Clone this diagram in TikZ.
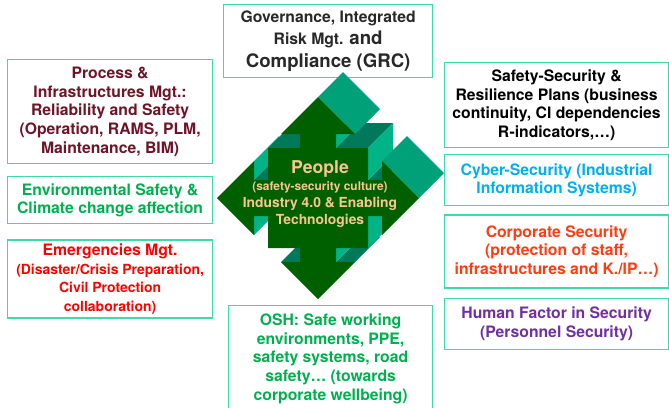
\documentclass[tikz,border=0pt]{standalone}
\usepackage{fontspec}
\setmainfont{TeX Gyre Heros}
\usetikzlibrary{positioning}
\definecolor{frameline}{RGB}{60,220,170}
\definecolor{arrowfront}{RGB}{0,96,0}
\definecolor{sidelight}{RGB}{0,180,135}
\definecolor{sidedark}{RGB}{0,120,90}
\definecolor{sidemid}{RGB}{0,160,120}
\definecolor{peopletan}{RGB}{246,200,144}
\definecolor{procred}{RGB}{110,20,40}
\definecolor{envgreen}{RGB}{0,176,80}
\definecolor{emred}{RGB}{255,0,0}
\definecolor{cyberblue}{RGB}{0,176,240}
\definecolor{corpred}{RGB}{255,60,20}
\definecolor{humanpurple}{RGB}{112,48,160}
\definecolor{grcgray}{RGB}{40,40,40}
\newcommand{\subtxt}{\fontsize{14}{16.8}\selectfont}
\newcommand{\bigtxt}{\fontsize{18.7}{22.5}\selectfont}

\begin{document}
\begin{tikzpicture}[x=1bp, y=-1bp,
	box/.style={draw=frameline, line width=1.2bp, fill=white, align=center,
		minimum width=205bp, inner sep=2bp, font=\fontsize{15.8}{18.8}\selectfont\bfseries},
	widebox/.style={box, minimum width=224bp},
	facelight/.style={fill=sidelight},
	facedark/.style={fill=sidedark},
	facemid/.style={fill=sidemid},
	front/.style={fill=arrowfront}
	]
	\useasboundingbox (0,0) rectangle (669,407);

	% left column
	\node[box, minimum height=104bp, text=procred, anchor=north west] (process) at (7,59)
		{Process \&\\Infrastructures Mgt.:\\Reliability and Safety\\(Operation, RAMS, PLM,\\Maintenance, BIM)};
	\node[box, minimum height=47bp, text=envgreen, below=12bp of process] (environment)
		{Environmental Safety \&\\Climate change affection};
	\node[box, minimum height=78bp, text=emred, below=15bp of environment] (emergency)
		{Emergencies Mgt.\\\subtxt (Disaster/Crisis Preparation,\\\subtxt Civil Protection\\\subtxt collaboration)};

	% right column
	\node[widebox, minimum height=85bp, text=black, anchor=north west] (plans) at (444,62)
		{Safety-Security \&\\Resilience Plans (business\\continuity, CI dependencies\\R-indicators,…)};
	\node[widebox, minimum height=51bp, text=cyberblue, below=6bp of plans] (cyber)
		{Cyber-Security (Industrial\\Information Systems)};
	\node[widebox, minimum height=73bp, text=corpred, below=8bp of cyber] (corporate)
		{Corporate Security\\(protection of staff,\\infrastructures and K./IP…)};
	\node[widebox, minimum height=51bp, text=humanpurple, below=9bp of corporate] (humanfactor)
		{Human Factor in Security\\(Personnel Security)};

	% top and bottom
	\node[box, minimum width=209bp, minimum height=73bp, text=grcgray, anchor=north west,
		font=\fontsize{15.8}{22.5}\selectfont\bfseries] (grc) at (223,4)
		{Governance, Integrated\\Risk Mgt. \bigtxt and\\\bigtxt Compliance (GRC)};
	\node[box, minimum width=204bp, minimum height=106bp, text=envgreen, anchor=north west] (osh) at (228,305)
		{OSH: Safe working\\environments, PPE,\\safety systems, road\\safety… (towards\\corporate wellbeing)};

	% 3D quad arrow
	\begin{scope}[shift={(318,198)}]
		\fill[facelight] (-64,-37) -- (-64,-18) -- (-39,-43) -- (-39,-62) -- cycle;
		\fill[facelight] (-64,18) -- (-64,37) -- (-39,12) -- (-39,-7) -- cycle;
		\fill[facedark] (-37,64) -- (-18,64) -- (7,39) -- (-12,39) -- cycle;
		\fill[facedark] (18,64) -- (37,64) -- (62,39) -- (43,39) -- cycle;
		\fill[facedark] (-64,-18) -- (-50,-18) -- (-25,-43) -- (-39,-43) -- cycle;
		\fill[facedark] (50,-18) -- (64,-18) -- (89,-43) -- (75,-43) -- cycle;
		\fill[facelight] (18,-64) -- (18,-50) -- (43,-75) -- (43,-89) -- cycle;
		\fill[facelight] (18,50) -- (18,64) -- (43,39) -- (43,25) -- cycle;
		\fill[facedark] (-50,-50) -- (-18,-50) -- (7,-75) -- (-25,-75) -- cycle;
		\fill[facedark] (18,-50) -- (50,-50) -- (75,-75) -- (43,-75) -- cycle;
		\fill[facelight] (50,-50) -- (50,-18) -- (75,-43) -- (75,-75) -- cycle;
		\fill[facelight] (50,18) -- (50,50) -- (75,25) -- (75,-7) -- cycle;
		\fill[facemid] (0,-101) -- (37,-64) -- (62,-89) -- (25,-126) -- cycle;
		\fill[facemid] (64,-37) -- (101,0) -- (126,-25) -- (89,-62) -- cycle;
		\fill[front] (0,-101) -- (37,-64) -- (18,-64) -- (18,-50) -- (50,-50) -- (50,-18)
			-- (64,-18) -- (64,-37) -- (101,0) -- (64,37) -- (64,18) -- (50,18) -- (50,50)
			-- (18,50) -- (18,64) -- (37,64) -- (0,101) -- (-37,64) -- (-18,64) -- (-18,50)
			-- (-50,50) -- (-50,18) -- (-64,18) -- (-64,37) -- (-101,0) -- (-64,-37)
			-- (-64,-18) -- (-50,-18) -- (-50,-50) -- (-18,-50) -- (-18,-64) -- (-37,-64) -- cycle;
	\end{scope}

	\node[align=center, text=peopletan, font=\fontsize{13.9}{17}\selectfont\bfseries] (people) at (320,194)
		{\fontsize{17.7}{18}\selectfont People\\\fontsize{12}{16.5}\selectfont (safety-security culture)\\Industry 4.0 \& Enabling\\Technologies};

\end{tikzpicture}
\end{document}
